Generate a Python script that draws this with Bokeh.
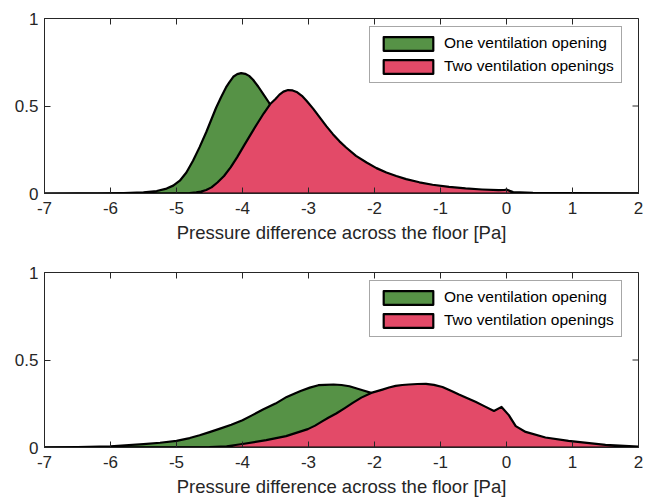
import math
from bokeh.plotting import figure
from bokeh.models import Range1d, FixedTicker, Legend, LegendItem
from bokeh.layouts import column
from bokeh.embed import file_html
from bokeh.resources import INLINE

# ---------------- data ----------------
x_ticks = [-7, -6, -5, -4, -3, -2, -1, 0, 1, 2]
x_tick_labels = ["-7", "-6", "-5", "-4", "-3", "-2", "-1", "0", "1", "2"]
y_ticks = [0, 0.5, 1]
y_tick_labels = ["0", "0.5", "1"]
series_names = ["One ventilation opening", "Two ventilation openings"]
x_label = "Pressure difference across the floor [Pa]"

# top panel
top_one_x = [-7, -6.5, -6.2, -5.8, -5.5, -5.3, -5.15, -5.05, -4.95, -4.85, -4.75, -4.65,
             -4.55, -4.475, -4.4, -4.325, -4.25, -4.2, -4.14, -4.08, -4.02, -3.96, -3.9,
             -3.84, -3.76, -3.68, -3.6, -3.5, -3.4, -3.3, -3.1, -2.9, -2.6, -2.3, -2.0,
             -1.5, -1.0, 0, 2]
top_one_y = [0, 0.0005, 0.001, 0.003, 0.007, 0.014, 0.028, 0.045, 0.073, 0.12, 0.187, 0.265,
             0.35, 0.42, 0.49, 0.55, 0.606, 0.635, 0.667, 0.682, 0.688, 0.684, 0.672,
             0.65, 0.61, 0.565, 0.52, 0.45, 0.38, 0.31, 0.2, 0.12, 0.06, 0.03, 0.014,
             0.005, 0.002, 0, 0]
top_two_x = [-7, -5.2, -4.9, -4.8, -4.7, -4.63, -4.55, -4.47, -4.38, -4.28, -4.18, -4.08,
             -3.98, -3.88, -3.78, -3.68, -3.58, -3.5, -3.44, -3.38, -3.31, -3.24, -3.17,
             -3.1, -3.03, -2.93, -2.83, -2.73, -2.63, -2.53, -2.43, -2.28, -2.12, -1.97,
             -1.82, -1.67, -1.52, -1.32, -1.12, -0.87, -0.62, -0.37, -0.12, -0.03, 0,
             0.05, 0.1, 0.4, 1, 2]
top_two_y = [0, 0, 0.001, 0.002, 0.006, 0.011, 0.02, 0.035, 0.063, 0.1, 0.149, 0.208,
             0.272, 0.335, 0.397, 0.457, 0.511, 0.54, 0.565, 0.582, 0.591, 0.589, 0.578,
             0.558, 0.53, 0.485, 0.435, 0.385, 0.339, 0.298, 0.263, 0.215, 0.177, 0.145,
             0.12, 0.1, 0.082, 0.064, 0.05, 0.038, 0.029, 0.023, 0.019, 0.02, 0.023,
             0.015, 0.008, 0.004, 0.002, 0.001]

# bottom panel
bot_one_x = [-7, -6.5, -6, -5.5, -5.25, -5, -4.8, -4.65, -4.5, -4.34, -4.17, -4, -3.85,
             -3.69, -3.5, -3.33, -3.2, -3.12, -2.98, -2.85, -2.75, -2.62, -2.5, -2.38,
             -2.18, -2.05, -1.8, -1.5, -1.0, -0.5, 0, 0.5, 1, 2]
bot_one_y = [0.001, 0.003, 0.007, 0.019, 0.027, 0.038, 0.054, 0.07, 0.088, 0.108, 0.13,
             0.156, 0.185, 0.217, 0.251, 0.289, 0.31, 0.323, 0.342, 0.356, 0.358, 0.36,
             0.357, 0.35, 0.327, 0.312, 0.27, 0.21, 0.12, 0.05, 0.02, 0.006, 0.002, 0]
bot_two_x = [-7, -5, -4.5, -4.24, -4, -3.64, -3.34, -3.01, -2.9, -2.8, -2.7, -2.58, -2.45,
             -2.33, -2.2, -2.05, -1.88, -1.78, -1.68, -1.58, -1.48, -1.35, -1.22, -1.1,
             -0.97, -0.85, -0.72, -0.6, -0.47, -0.33, -0.19, -0.075, 0.035, 0.14, 0.29,
             0.59, 0.94, 1.5, 2]
bot_two_y = [0, 0.001, 0.003, 0.007, 0.02, 0.042, 0.065, 0.105, 0.125, 0.148, 0.17, 0.194,
             0.225, 0.255, 0.285, 0.312, 0.331, 0.343, 0.352, 0.357, 0.36, 0.363, 0.364,
             0.358, 0.346, 0.326, 0.303, 0.283, 0.261, 0.235, 0.209, 0.232, 0.185, 0.122,
             0.089, 0.057, 0.038, 0.015, 0.005]

GREEN = "#569246"
RED = "#E34A68"
TXT = "#262626"
FONT = "Liberation Sans"


def closed(xs, ys):
    return list(xs) + [xs[-1], xs[0]], list(ys) + [0, 0]


def make_panel(one_x, one_y, two_x, two_y, height, top, bottom):
    p = figure(width=648, height=height, x_range=Range1d(x_ticks[0], x_ticks[-1]),
               y_range=Range1d(y_ticks[0], y_ticks[-1]),
               output_backend="svg", toolbar_location=None,
               min_border_left=44, min_border_right=10,
               min_border_top=top, min_border_bottom=bottom)
    p.xgrid.visible = False
    p.ygrid.visible = False
    p.outline_line_color = TXT
    p.outline_line_width = 1

    gx, gy = closed(one_x, one_y)
    rx, ry = closed(two_x, two_y)
    g = p.patch(gx, gy, fill_color=GREEN, line_color="black", line_width=2.2,
                line_join="round")
    r = p.patch(rx, ry, fill_color=RED, line_color="black", line_width=2.2,
                line_join="round")

    # mirrored inward ticks on top and right edges (MATLAB box style)
    p.scatter(x=x_ticks, y=[y_ticks[-1]] * len(x_ticks), marker="dash", angle=math.pi / 2,
              size=12, line_color=TXT, line_width=1)
    p.scatter(x=[x_ticks[-1]] * len(y_ticks), y=y_ticks, marker="dash",
              size=12, line_color=TXT, line_width=1)

    for ax in (p.xaxis[0], p.yaxis[0]):
        ax.major_tick_in = 6
        ax.major_tick_out = 0
        ax.minor_tick_line_color = None
        ax.axis_line_color = TXT
        ax.major_tick_line_color = TXT
        ax.major_label_text_font = FONT
        ax.major_label_text_font_size = "17px"
        ax.major_label_text_color = TXT
    p.xaxis[0].ticker = FixedTicker(ticks=x_ticks)
    p.yaxis[0].ticker = FixedTicker(ticks=y_ticks)
    p.xaxis[0].major_label_overrides = dict(zip(x_ticks, x_tick_labels))
    p.yaxis[0].major_label_overrides = dict(zip(y_ticks, y_tick_labels))
    p.xaxis[0].major_label_standoff = 8
    p.yaxis[0].major_label_standoff = 6
    p.xaxis[0].axis_label = x_label
    p.xaxis[0].axis_label_text_font = FONT
    p.xaxis[0].axis_label_text_font_size = "18.5px"
    p.xaxis[0].axis_label_text_font_style = "normal"
    p.xaxis[0].axis_label_text_color = TXT
    p.xaxis[0].axis_label_standoff = 5

    legend = Legend(items=[LegendItem(label=series_names[0], renderers=[g]),
                           LegendItem(label=series_names[1], renderers=[r])],
                    location=(325, 110))
    legend.label_text_font = FONT
    legend.label_text_font_size = "15.5px"
    legend.label_text_color = "black"
    legend.glyph_width = 62
    legend.glyph_height = 17
    legend.label_height = 17
    legend.label_standoff = 5
    legend.spacing = 5
    legend.padding = 7
    legend.margin = 0
    legend.border_line_color = "#505050"
    legend.border_line_width = 1
    legend.background_fill_alpha = 1
    p.add_layout(legend, "center")
    return p


p1 = make_panel(top_one_x, top_one_y, top_two_x, top_two_y, 250, 18, 57)
p2 = make_panel(bot_one_x, bot_one_y, bot_two_x, bot_two_y, 249, 22, 52)

layout = column(p1, p2, spacing=0)
open("out.html", "w").write(file_html(layout, INLINE))
